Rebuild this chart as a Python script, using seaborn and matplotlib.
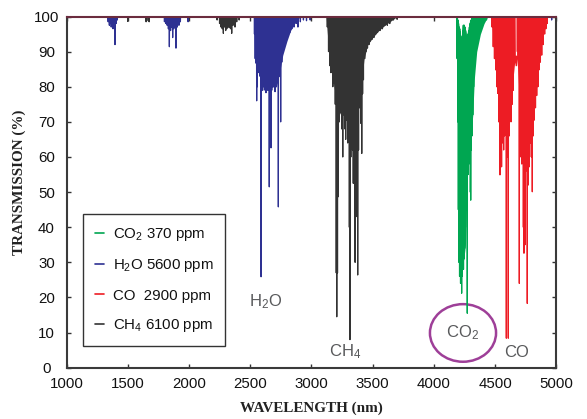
import numpy as np
import pandas as pd
import matplotlib
matplotlib.use("Agg")
import matplotlib.pyplot as plt
import seaborn as sns
from matplotlib.lines import Line2D
from matplotlib.patches import Ellipse

# ---- line positions (nm) and line-centre transmission (%) ----
co2_nm = [4190, 4195, 4200, 4205, 4210, 4214, 4218, 4222, 4227, 4232, 4237, 4242, 4247, 4252,
          4258, 4265, 4273, 4280, 4286, 4292, 4298, 4301, 4306, 4312, 4318, 4325, 4333, 4342,
          4352, 4365, 4380, 4395, 4412, 4430]
co2_min = [88, 70, 45, 30, 26, 27.8, 24, 30, 21.2, 26, 29, 28, 31, 34,
           40, 45, 15.5, 55, 58, 62, 50, 47.7, 62, 66, 72, 80, 86, 90,
           93, 95, 96.5, 97.5, 98.5, 99]
# level the CO2 spectrum climbs back to between lines (notches near band centre)
co2_top = [100, 99, 98, 97, 96.5, 95.5, 94.5, 93.5, 93, 94, 96, 97.5, 97.5, 97,
           96, 94.5, 94, 95, 96, 97, 98, 98.5, 99, 99.5, 100, 100, 100, 100,
           100, 100, 100, 100, 100, 100]

h2o_nm = [1340, 1350, 1358, 1365, 1372, 1380, 1388, 1396, 1405, 1415,
          1800, 1812, 1822, 1832, 1840, 1850, 1858, 1867, 1876, 1885, 1894, 1905, 1918, 1930, 1993,
          2535, 2541, 2548, 2553, 2558, 2565, 2572, 2580, 2589, 2596, 2602, 2607, 2615, 2622,
          2629, 2636, 2643, 2650, 2656, 2663, 2670, 2676, 2684, 2690, 2697, 2703, 2710, 2716,
          2722, 2730, 2738, 2749, 2758, 2766, 2775, 2785, 2795, 2810, 2825, 2840, 2858, 2875,
          2890, 2910, 2935, 2960, 2990, 4962]
h2o_min = [98.5, 97.5, 98, 97, 98.5, 96.5, 97.5, 92, 98, 99,
           98.5, 98, 97.5, 96.5, 91.4, 96, 97, 94, 96.5, 97, 91, 97, 97.5, 98.5, 98.5,
           95, 88, 86.7, 76, 80, 86, 84, 83, 25.9, 82, 79, 80, 80, 79,
           78.3, 79, 80, 79, 51.5, 79, 62.6, 79, 80, 80, 80, 78.6, 80, 81,
           82, 45.8, 83, 70, 87, 90, 92, 93, 94, 95.5, 95.5, 96.5, 97, 98,
           97, 98.5, 99, 98.8, 99, 99]

co_nm = [4475, 4485, 4495, 4505, 4513, 4521, 4530, 4540, 4547, 4553, 4562, 4570, 4578,
         4592, 4598, 4608, 4616, 4622, 4630, 4640, 4649, 4660,
         4682, 4690, 4698, 4704, 4711, 4718, 4725, 4731, 4736, 4744, 4752, 4757, 4763, 4770,
         4779, 4788, 4796, 4804, 4812, 4820, 4830, 4840, 4850, 4859, 4870, 4881, 4893, 4905,
         4915, 4925]
co_min = [97, 91.4, 88, 84.8, 80, 78.1, 70, 54.9, 62, 57.2, 64, 62, 66,
          8.4, 60, 8.4, 66, 72, 70, 75, 79, 88,
          90, 89, 24, 60, 66, 58, 62, 40, 32.6, 35, 56, 60, 18.3, 52,
          57.2, 64, 60, 50.1, 66, 70.5, 74, 77.5, 80, 84.8, 87, 89, 92, 95,
          96.5, 98]

ch4_nm = [1500, 1650, 1667, 1675, 2230, 2250, 2262, 2272, 2281, 2290, 2300, 2309, 2320, 2330,
          2340, 2349, 2360, 2376, 2390, 2410,
          3130, 3140, 3150, 3160, 3166, 3175, 3185, 3195, 3203, 3207, 3213, 3220, 3228, 3239,
          3247, 3256, 3265, 3273, 3280, 3288, 3296, 3304, 3310, 3315, 3322, 3330, 3336, 3342,
          3350, 3357, 3364, 3371, 3378, 3385, 3392, 3403, 3411, 3418, 3425, 3435, 3445, 3458,
          3470, 3482, 3495, 3510, 3525, 3540, 3560, 3580, 3600, 3620, 3640, 3670, 3700]
ch4_min = [98.6, 98.5, 98.8, 98.5, 99, 98, 97, 96.5, 95.2, 97, 96, 96.5, 97, 96.8,
           96.5, 95.2, 97.5, 97, 98.5, 99,
           97, 90, 86, 84, 84.3, 80, 81, 75, 27, 14.5, 27, 48.7, 70, 75.7,
           68, 60, 72, 68, 65, 70.5, 64, 68, 40, 8, 60, 66, 62, 52.5,
           65, 30, 43, 60, 26.4, 62, 74, 69.6, 61, 78, 82, 88, 90, 91,
           92, 93, 93.5, 94, 95, 95.5, 96, 96.5, 97.5, 97.5, 98, 99, 99.2]

# ---- dense-band envelopes (where the lines merge into a solid block) ----
co2_band_nm = [4183, 4190, 4197, 4204, 4215, 4230, 4245, 4258, 4266, 4275, 4290, 4305, 4318,
               4330, 4350, 4380, 4410, 4440]
co2_band_lo = [100, 90, 60, 33, 29, 29, 31, 35, 45, 58, 64, 67, 72, 82, 90, 95, 98, 100]
co2_band_hi = [100, 99, 97.5, 96, 95, 93.5, 97, 96, 94.5, 94.5, 97, 99, 100, 100, 100, 100, 100, 100]

h2o_band_nm = [2530, 2537, 2560, 2580, 2600, 2620, 2650, 2680, 2715, 2740, 2766, 2800, 2830, 2870, 2910]
h2o_band_lo = [100, 88, 86.5, 84, 81, 79, 79, 80, 80, 84, 89, 93, 96, 98.5, 100]

ch4_band_nm = [3120, 3135, 3160, 3185, 3210, 3240, 3270, 3300, 3330, 3360, 3390, 3410, 3430,
               3460, 3500, 3550, 3600, 3660, 3700]
ch4_band_lo = [100, 93, 86, 80, 74, 72, 74, 72, 70, 72, 76, 81, 88, 92, 94, 96, 97.5, 99, 100]

co_band_nm = [4470, 4480, 4500, 4520, 4540, 4560, 4580, 4600, 4620, 4640, 4660, 4664, 4676,
              4680, 4700, 4720, 4740, 4760, 4780, 4800, 4820, 4840, 4860, 4880, 4900, 4925]
co_band_lo = [100, 95, 88, 80, 72, 70, 70, 72, 74, 80, 87, 86, 86,
              88, 75, 70, 68, 68, 72, 76, 82, 86, 90, 94, 97, 100]
co_band_hi = [100, 100, 100, 100, 100, 100, 100, 100, 100, 100, 100, 89, 89,
              100, 100, 100, 100, 100, 100, 100, 100, 100, 100, 100, 100, 100]

labels = ["CO$_2$ 370 ppm", "H$_2$O 5600 ppm", "CO  2900 ppm", "CH$_4$ 6100 ppm"]
colors = ["#00a651", "#2e3192", "#ed1c24", "#333333"]

sns.set_style("ticks")
plt.rcParams["font.family"] = ["Liberation Sans", "DejaVu Sans"]
plt.rcParams["mathtext.default"] = "regular"


def spikes(nm, tmin, top=None):
    xs, ys = [], []
    for i, (w, t) in enumerate(zip(nm, tmin)):
        tp = 100 if top is None else top[i]
        xs += [w - 1.5, w, w + 1.5]
        ys += [tp, t, tp]
    return pd.DataFrame({"nm": xs, "T": ys})


fig = plt.figure(figsize=(5.87, 4.19), dpi=100)
ax = fig.add_axes([0.1133, 0.1224, 0.8344, 0.8382])

# bands first, then the individual lines on top
ax.fill_between(h2o_band_nm, h2o_band_lo, 100, color=colors[1], lw=0)
ax.fill_between(ch4_band_nm, ch4_band_lo, 100, color=colors[3], lw=0)
ax.fill_between(co2_band_nm, co2_band_lo, co2_band_hi, color=colors[0], lw=0)
ax.fill_between(co_band_nm, co_band_lo, co_band_hi, color=colors[2], lw=0)

sns.lineplot(data=spikes(h2o_nm, h2o_min), x="nm", y="T", sort=False, estimator=None,
             color=colors[1], lw=0.9, ax=ax)
sns.lineplot(data=spikes(ch4_nm, ch4_min), x="nm", y="T", sort=False, estimator=None,
             color=colors[3], lw=0.9, ax=ax)
sns.lineplot(data=spikes(co2_nm, co2_min, co2_top), x="nm", y="T", sort=False, estimator=None,
             color=colors[0], lw=0.9, ax=ax)
sns.lineplot(data=spikes(co_nm, co_min), x="nm", y="T", sort=False, estimator=None,
             color=colors[2], lw=0.9, ax=ax)

ax.set_xlim(1000, 5000)
ax.set_ylim(0, 100)
ax.set_xticks(np.arange(1000, 5001, 500))
ax.set_yticks(np.arange(0, 101, 10))
ax.tick_params(direction="in", length=3, width=1, colors="#333333", labelcolor="#111111",
               labelsize=10.8, right=True, top=True)
ax.tick_params(axis="x", pad=6.5)
ax.tick_params(axis="y", pad=14.4)
for lbl in ax.get_yticklabels():
    lbl.set_horizontalalignment("center")

for side in ["left", "bottom", "right"]:
    ax.spines[side].set_color("#3a3a3a")
    ax.spines[side].set_linewidth(1.5)
ax.spines["top"].set_color("#6b2c3e")
ax.spines["top"].set_linewidth(1.5)

ax.set_xlabel("WAVELENGTH (nm)", family="Liberation Serif", fontweight="bold", fontsize=10.9,
              color="#222222")
ax.set_ylabel("TRANSMISSION (%)", family="Liberation Serif", fontweight="bold", fontsize=10.9,
              color="#222222")
ax.xaxis.set_label_coords(0.5, -0.097)
ax.yaxis.set_label_coords(-0.082, 0.527)

# species labels
ann = dict(ha="center", va="baseline", fontsize=12, color="#58595b")
ax.text(2628, 17.6, "H$_2$O", **ann)
ax.text(3277, 3.3, "CH$_4$", **ann)
ax.text(4234, 8.7, "CO$_2$", **ann)
ax.text(4679, 3.1, "CO", **ann)
ax.add_patch(Ellipse((4238, 9.9), width=540, height=16.4, fill=False,
                     edgecolor="#9e3f98", lw=1.8, clip_on=False))

handles = [Line2D([], [], color=c, lw=1.2) for c in colors]
leg = ax.legend(handles, labels, loc="lower left", bbox_to_anchor=(0.033, 0.062),
                borderaxespad=0, fontsize=10.8, frameon=True, fancybox=False,
                framealpha=1, edgecolor="#333333", handlelength=0.6, handletextpad=0.6,
                labelspacing=0.95, borderpad=0.8)
leg.get_frame().set_linewidth(1.0)
for t in leg.get_texts():
    t.set_color("#111111")

fig.savefig("out.png", dpi=100)
